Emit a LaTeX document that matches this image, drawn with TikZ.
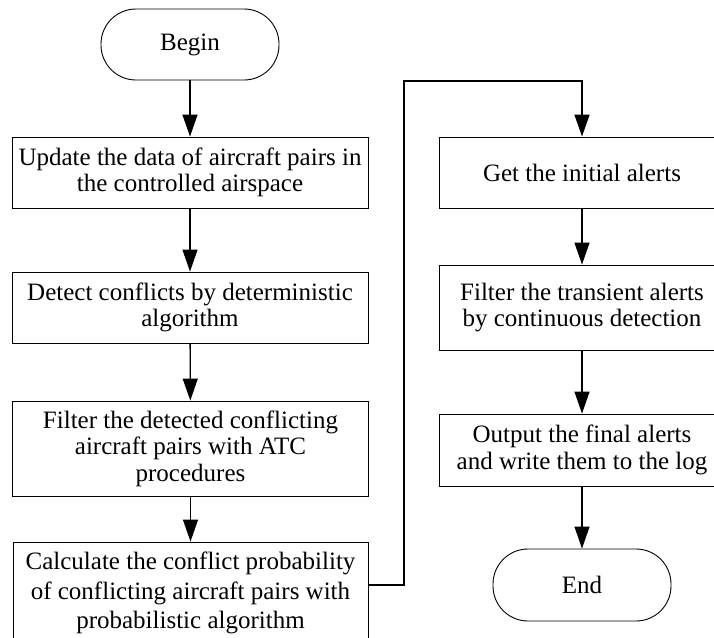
\documentclass[tikz,border=0pt]{standalone}
\usepackage{fontspec}
\setmainfont{Liberation Serif}
\usetikzlibrary{arrows.meta}
\begin{document}
\begin{tikzpicture}[x=1pt,y=-1pt,
  every node/.style={font=\fontsize{25}{26.5}\selectfont, align=center, inner sep=0pt},
  proc/.style={draw, line width=0.9pt, minimum width=356pt},
  procR/.style={draw, line width=0.9pt, minimum width=286pt},
  term/.style={draw, line width=0.9pt, rounded corners=35pt, minimum width=178pt, minimum height=71pt},
  arr/.style={line width=1.3pt, -{Triangle[length=22pt,width=15pt]}},
  link/.style={line width=1.6pt, -{Triangle[length=22pt,width=15pt]}}]
\path[use as bounding box] (0,0) rectangle (714,637);
\clip (0,0) rectangle (714,637);
\node[term] (begin) at (190,44.5) {Begin};
\node[proc, minimum height=71pt] (b1) at (190,172.5) {Update the data of aircraft pairs in\\the controlled airspace};
\node[proc, minimum height=71pt] (b2) at (190,307.5) {Detect conflicts by deterministic\\algorithm};
\node[proc, minimum height=95pt] (b3) at (190.5,448.5) {Filter the detected conflicting\\aircraft pairs with ATC\\procedures};
\node[proc, minimum width=355pt, minimum height=102pt, font=\fontsize{25}{29.5}\selectfont] (b4) at (190.5,593) {Calculate the conflict probability\\of conflicting aircraft pairs with\\probabilistic algorithm};
\node[procR, minimum height=71pt] (r1) at (582,172.5) {Get the initial alerts};
\node[procR, minimum height=85pt] (r2) at (582,307.5) {Filter the transient alerts\\by continuous detection};
\node[procR, minimum height=72pt] (r3) at (582,450) {Output the final alerts\\and write them to the log};
\node[term, minimum height=72pt] (end) at (582,585) {End};
\coordinate (k1) at (404,585);
\coordinate (k2) at (404,81);
\draw[arr] (begin) -- (b1);
\draw[arr] (b1) -- (b2);
\draw[arr] (b2) -- (b3);
\draw[arr] (b3) -- (b4);
\draw[link] (b4.east |- k1) -- (k1) -- (k2) -| (r1.north);
\draw[arr] (r1) -- (r2);
\draw[arr] (r2) -- (r3);
\draw[arr] (r3) -- (end);
\end{tikzpicture}
\end{document}
